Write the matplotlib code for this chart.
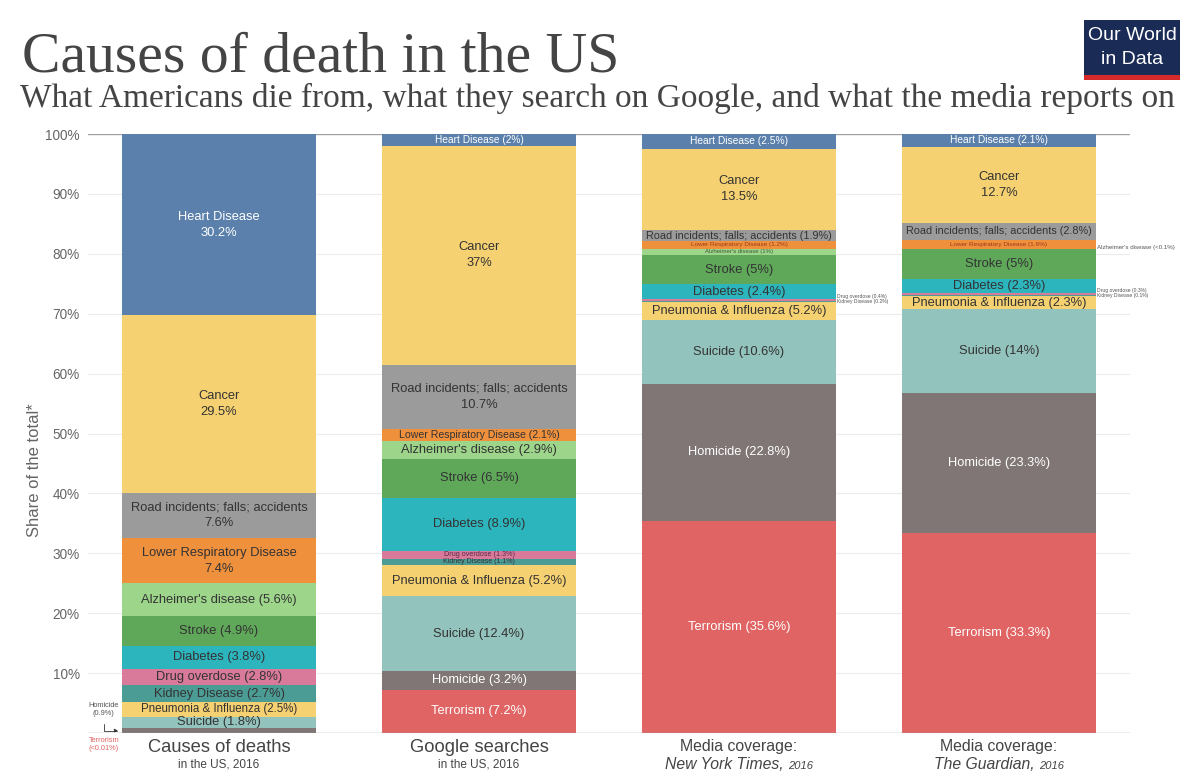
import matplotlib.pyplot as plt
import matplotlib.transforms as mtransforms
from matplotlib.patches import Rectangle
import numpy as np

# stacking order, bottom to top
causes = ["Terrorism", "Homicide", "Suicide", "Pneumonia & Influenza",
          "Kidney Disease", "Drug overdose", "Diabetes", "Stroke",
          "Alzheimer's disease", "Lower Respiratory Disease",
          "Road incidents; falls; accidents", "Cancer", "Heart Disease"]

# segment heights (share of total, %)
deaths = [0.01, 0.9, 1.8, 2.5, 2.7, 2.8, 3.8, 4.9, 5.6, 7.4, 7.6, 29.5, 30.2]
google = [7.2, 3.2, 12.4, 5.2, 1.1, 1.3, 8.9, 6.5, 2.9, 2.1, 10.7, 36.5, 2.0]
nyt = [35.4, 22.8, 10.6, 3.0, 0.2, 0.4, 2.4, 5.0, 1.0, 1.2, 1.9, 13.5, 2.5]
guardian = [33.3, 23.3, 14.0, 2.3, 0.1, 0.3, 2.3, 5.0, 0.05, 1.6, 2.8, 12.7, 2.1]

# the labels as printed in the bars ("" = no label inside the bar)
deaths_labels = ["", "", "Suicide (1.8%)", "Pneumonia & Influenza (2.5%)",
                 "Kidney Disease (2.7%)", "Drug overdose (2.8%)", "Diabetes (3.8%)",
                 "Stroke (4.9%)", "Alzheimer's disease (5.6%)",
                 "Lower Respiratory Disease\n7.4%",
                 "Road incidents; falls; accidents\n7.6%", "Cancer\n29.5%",
                 "Heart Disease\n30.2%"]
google_labels = ["Terrorism (7.2%)", "Homicide (3.2%)", "Suicide (12.4%)",
                 "Pneumonia & Influenza (5.2%)", "Kidney Disease (1.1%)",
                 "Drug overdose (1.3%)", "Diabetes (8.9%)", "Stroke (6.5%)",
                 "Alzheimer's disease (2.9%)", "Lower Respiratory Disease (2.1%)",
                 "Road incidents; falls; accidents\n10.7%", "Cancer\n37%",
                 "Heart Disease (2%)"]
nyt_labels = ["Terrorism (35.6%)", "Homicide (22.8%)", "Suicide (10.6%)",
              "Pneumonia & Influenza (5.2%)", "", "", "Diabetes (2.4%)",
              "Stroke (5%)", "Alzheimer's disease (1%)",
              "Lower Respiratory Disease (1.2%)",
              "Road incidents; falls; accidents (1.9%)", "Cancer\n13.5%",
              "Heart Disease (2.5%)"]
guardian_labels = ["Terrorism (33.3%)", "Homicide (23.3%)", "Suicide (14%)",
                   "Pneumonia & Influenza (2.3%)", "", "", "Diabetes (2.3%)",
                   "Stroke (5%)", "", "Lower Respiratory Disease (1.6%)",
                   "Road incidents; falls; accidents (2.8%)", "Cancer\n12.7%",
                   "Heart Disease (2.1%)"]

# notes written next to the bars for slivers
outside_notes = {
    2: ["Drug overdose (0.4%)", "Kidney Disease (0.2%)"],
    3: ["Drug overdose (0.3%)", "Kidney Disease (0.1%)"],
}

column_titles = ["Causes of deaths", "Google searches", "Media coverage:", "Media coverage:"]
column_subtitles = ["in the US, 2016", "in the US, 2016", "New York Times,", "The Guardian,"]

colors = {
    "Terrorism": "#e06464",
    "Homicide": "#7f7675",
    "Suicide": "#93c3bd",
    "Pneumonia & Influenza": "#f5d172",
    "Kidney Disease": "#4c9c96",
    "Drug overdose": "#d97a9b",
    "Diabetes": "#2db5bd",
    "Stroke": "#5fa85a",
    "Alzheimer's disease": "#9dd68a",
    "Lower Respiratory Disease": "#ef903d",
    "Road incidents; falls; accidents": "#9b9b9b",
    "Cancer": "#f5d172",
    "Heart Disease": "#5a80ab",
}
white_text = {"Terrorism", "Homicide", "Heart Disease"}

# label font sizes that differ from the default
small = {
    (0, "Pneumonia & Influenza"): 8.3,
    (1, "Kidney Disease"): 5.0, (1, "Drug overdose"): 5.2,
    (1, "Lower Respiratory Disease"): 7.6, (1, "Heart Disease"): 7.3,
    (2, "Alzheimer's disease"): 4.3, (2, "Lower Respiratory Disease"): 4.6,
    (2, "Road incidents; falls; accidents"): 7.8, (2, "Heart Disease"): 7.4,
    (3, "Lower Respiratory Disease"): 4.6, (3, "Heart Disease"): 7.4,
    (3, "Road incidents; falls; accidents"): 7.8,
}
small_colors = {"Lower Respiratory Disease": "#9a3a1a", "Drug overdose": "#5a2a4a",
                "Alzheimer's disease": "#3a5a3a"}

plt.rcParams["font.family"] = ["Liberation Sans", "DejaVu Sans"]

fig = plt.figure(figsize=(12, 7.82), dpi=100)
ax = fig.add_axes([88 / 1200, 49 / 782, 1042 / 1200, 599 / 782])

# each column is a share of its own total
columns = [np.array(c) / np.sum(c) * 100 for c in (deaths, google, nyt, guardian)]
labels = [deaths_labels, google_labels, nyt_labels, guardian_labels]
x = np.arange(len(columns))
width = 0.746

for ci, (vals, labs) in enumerate(zip(columns, labels)):
    bottom = 0.0
    for cause, v, lab in zip(causes, vals, labs):
        ax.bar(x[ci], v, width, bottom=bottom, color=colors[cause], linewidth=0, zorder=2)
        if lab:
            fs = small.get((ci, cause), 9.3)
            if cause in white_text:
                tc = "white"
            elif fs < 6.5:
                tc = small_colors.get(cause, "#333333")
            else:
                tc = "#333333"
            ax.text(x[ci], bottom + v / 2, lab, ha="center", va="center",
                    fontsize=fs, color=tc, linespacing=1.45, zorder=3)
        bottom += v

# notes to the right of the media columns
for ci, notes in outside_notes.items():
    base = columns[ci][:4].sum()
    ax.text(x[ci] + width / 2 + 0.005, base + 0.5, notes[0], fontsize=3.6,
            color="#555555", va="bottom", ha="left")
    ax.text(x[ci] + width / 2 + 0.005, base + 0.5, notes[1], fontsize=3.6,
            color="#555555", va="top", ha="left")
ax.text(x[3] + width / 2 + 0.005, columns[3][:8].sum() + 0.4, "Alzheimer's disease (<0.1%)",
        fontsize=4.4, color="#555555", va="center", ha="left")

# homicide / terrorism callouts on the first column
ax.text(-0.443, 3.9, "Homicide\n(0.9%)", fontsize=5.3, color="#555555",
        ha="center", va="center", linespacing=1.3)
ax.annotate("", xy=(x[0] - width / 2 - 0.005, 0.4), xytext=(-0.443, 2.0),
            arrowprops=dict(arrowstyle="-|>", color="#333333", lw=0.6,
                            mutation_scale=5,
                            connectionstyle="angle,angleA=90,angleB=0,rad=0"),
            annotation_clip=False)
ax.text(-0.443, -1.9, "Terrorism\n(<0.01%)", fontsize=5.3, color="#e06464",
        ha="center", va="center", linespacing=1.3, clip_on=False)

# column captions under the bars
for ci in range(4):
    ax.text(x[ci], -1.0, column_titles[ci], ha="center", va="top",
            fontsize=13.2 if ci < 2 else 11.4, color="#444444", clip_on=False)

for ci in range(2):
    ax.text(x[ci], -4.2, column_subtitles[ci], ha="center", va="top",
            fontsize=8.5, color="#444444", clip_on=False)

fig.canvas.draw()
renderer = fig.canvas.get_renderer()
for ci in (2, 3):
    t1 = ax.text(x[ci], -4.0, column_subtitles[ci], ha="left", va="top",
                 fontsize=11.3, style="italic", color="#444444", clip_on=False)
    t2 = ax.text(x[ci], -4.6, "2016", ha="left", va="top",
                 fontsize=8.0, style="italic", color="#444444", clip_on=False)
    w1 = t1.get_window_extent(renderer).width
    w2 = t2.get_window_extent(renderer).width
    gap = 4
    total = w1 + gap + w2
    t1.set_transform(mtransforms.offset_copy(ax.transData, fig, x=-total / 2, y=0, units="dots"))
    t2.set_transform(mtransforms.offset_copy(ax.transData, fig, x=-total / 2 + w1 + gap, y=0, units="dots"))

ax.set_xlim(-0.504, 3.504)
ax.set_ylim(0, 100)
ax.set_xticks([])
ax.set_yticks(np.arange(10, 101, 10))
ax.set_yticklabels([f"{v}%" for v in range(10, 101, 10)], fontsize=9.8, color="#666666")
ax.tick_params(axis="y", length=0, pad=6)
for s in ax.spines.values():
    s.set_visible(False)
for v in range(10, 100, 10):
    ax.axhline(v, color="#ececec", lw=0.8, zorder=1)
ax.axhline(100, color="#a0a0a0", lw=1.0, zorder=1)
ax.axhline(0, color="#a0a0a0", lw=1.0, zorder=4)

fig.text(35 / 1200, 1 - 470 / 782, "Share of the total*", rotation=90,
         ha="center", va="center", fontsize=12, color="#666666")

# title and subtitle
fig.text(22 / 1200, 1 - 71 / 782, "Causes of death in the US", fontsize=41.5,
         family="Liberation Serif", color="#444444", va="baseline", ha="left")
fig.text(20 / 1200, 1 - 107 / 782,
         "What Americans die from, what they search on Google, and what the media reports on",
         fontsize=24, family="Liberation Serif", color="#444444", va="baseline", ha="left")

# Our World in Data badge
fig.patches.append(Rectangle((1084 / 1200, 1 - 75 / 782), 96 / 1200, 55 / 782,
                             transform=fig.transFigure, facecolor="#1a2c56",
                             edgecolor="none"))
fig.patches.append(Rectangle((1084 / 1200, 1 - 80 / 782), 96 / 1200, 5 / 782,
                             transform=fig.transFigure, facecolor="#d52b2b",
                             edgecolor="none"))
fig.text(1132 / 1200, 1 - 36 / 782, "Our World", ha="center", va="center",
         fontsize=14, color="white")
fig.text(1132 / 1200, 1 - 59 / 782, "in Data", ha="center", va="center",
         fontsize=14, color="white")

fig.savefig("out.png", dpi=100, facecolor="white")
